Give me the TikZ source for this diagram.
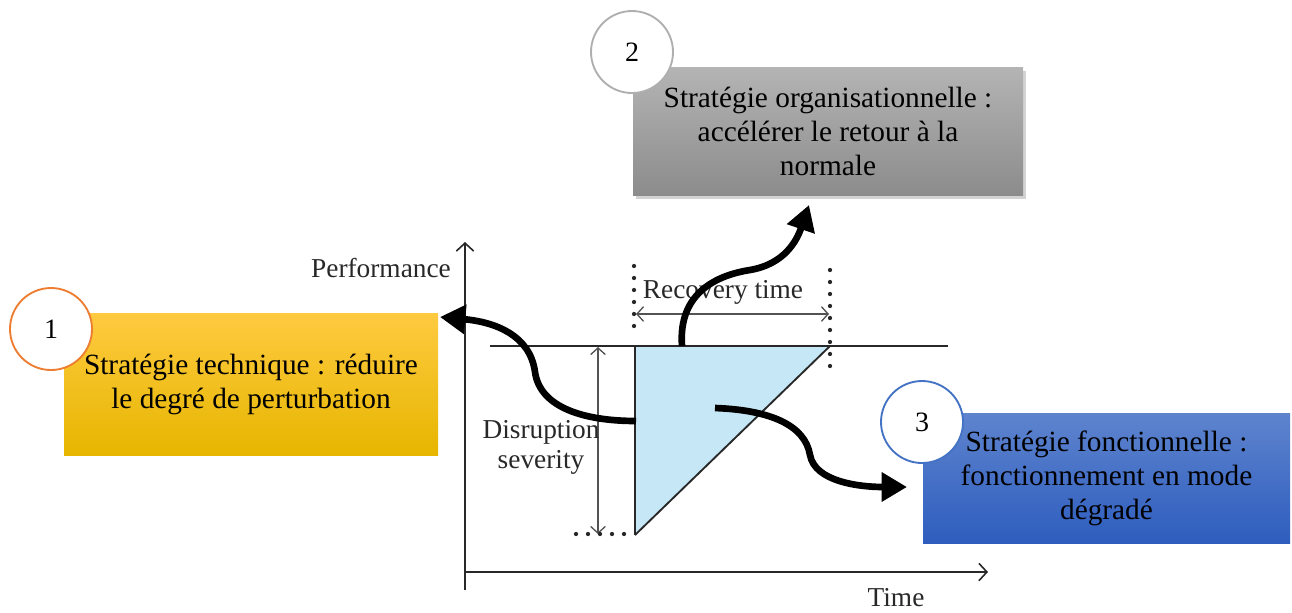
\documentclass[tikz,border=0pt]{standalone}
\usepackage{fontspec}
\setmainfont{Liberation Serif}
\usetikzlibrary{arrows.meta,shadows}
\definecolor{yelTop}{RGB}{255,202,64}
\definecolor{yelBot}{RGB}{230,182,0}
\definecolor{grayTop}{RGB}{180,180,180}
\definecolor{grayBot}{RGB}{140,140,140}
\definecolor{blueTop}{RGB}{94,132,206}
\definecolor{blueBot}{RGB}{46,93,190}
\definecolor{ringOrange}{RGB}{237,125,49}
\definecolor{ringGray}{RGB}{175,175,175}
\definecolor{ringBlue}{RGB}{68,114,196}
\definecolor{lossFill}{RGB}{198,232,246}
\definecolor{chartInk}{RGB}{40,40,40}
\begin{document}
\begin{tikzpicture}[x=0.75pt,y=-0.75pt,
  boxtext/.style={font=\fontsize{22}{25.5}\selectfont, align=center, inner sep=0pt, text=black},
  stratbox/.style={boxtext, shading=axis, shading angle=0},
  numring/.style={circle, draw, line width=1.4pt, fill=white, minimum size=61.5pt, inner sep=0pt,
                  font=\fontsize{21}{24}\selectfont},
  charttext/.style={font=\fontsize{20.5}{22.5}\selectfont, text=chartInk, inner sep=0pt, align=center},
  axis/.style={line width=1.4pt, chartInk, -{Straight Barb[length=6pt,width=13pt,line width=1.2pt]}},
  span/.style={line width=1pt, chartInk!80, {Straight Barb[length=5pt,width=11pt]}-{Straight Barb[length=5pt,width=11pt]}},
  dotline/.style={line width=3.2pt, chartInk, line cap=round, dash pattern=on 0pt off 9pt},
  curly/.style={line width=5pt, black, -{Triangle[length=19pt,width=21pt]}}
]
\useasboundingbox (0,0) rectangle (1292,612);

% strategy boxes
\node[stratbox, top color=yelTop, bottom color=yelBot, minimum width=280.5pt, minimum height=106.5pt]
  (tech) at (251,384) {Stratégie technique : réduire\\le degré de perturbation};
\node[stratbox, top color=grayTop, bottom color=grayBot, minimum width=292.5pt, minimum height=96pt,
      drop shadow={shadow xshift=2pt, shadow yshift=-3pt, opacity=0.35}]
  (orga) at (828,131) {Stratégie organisationnelle :\\accélérer le retour à la\\normale};
\node[stratbox, top color=blueTop, bottom color=blueBot, minimum width=275.25pt, minimum height=97.5pt]
  (func) at (1106.5,478) {Stratégie fonctionnelle :\\fonctionnement en mode\\dégradé};

% numbered rings
\node[numring, draw=ringOrange] (n1) at (51,329) {1};
\node[numring, draw=ringGray]   (n2) at (632,52) {2};
\node[numring, draw=ringBlue]   (n3) at (922,422) {3};

% axes
\coordinate (ybot) at (465,590);
\coordinate (ytop) at (465,242);
\coordinate (xstart) at (465,572);
\coordinate (xend) at (988,572);
\draw[axis] (ybot) -- (ytop);
\draw[axis] (xstart) -- (xend);
\node[charttext] (perf) at (381,268) {Performance};
\node[charttext] (time) at (896,598) {Time};

% nominal performance level and loss triangle
\coordinate (tA) at (635,346);
\coordinate (tB) at (830,346);
\coordinate (tC) at (635,535);
\fill[lossFill] (tA) -- (tB) -- (tC) -- cycle;
\draw[line width=1.6pt, chartInk] (490,346) -- (948,346);
\draw[line width=1.8pt, chartInk] (tA) -- (tC);
\draw[line width=1.4pt, chartInk] (tC) -- (tB);

% recovery time span
\draw[dotline] (634,266) -- (634,336);
\draw[dotline] (830,270) -- (830,372);
\draw[span] (636,314) -- (829,314);
\node[charttext] (rec) at (723,292) {Recovery time};

% disruption severity span
\draw[span] (598,347) -- (598,534);
\draw[dotline] (576,534) -- (628,534);
\node[charttext] (sev) at (541,447) {Disruption\\severity};

% strategy arrows
\coordinate (s1) at (636,421);
\coordinate (e1) at (440,317);
\coordinate (s2) at (682,346);
\coordinate (e2) at (809,205);
\coordinate (s3) at (715,408);
\coordinate (e3) at (907,487);
\draw[curly] (s1) .. controls (585,421) and (540,408) .. (535,372)
             .. controls (530,335) and (495,322) .. (e1);
\draw[curly] (s2) .. controls (678,292) and (718,275) .. (750,270)
             .. controls (785,264) and (797,240) .. (e2);
\draw[curly] (s3) .. controls (770,410) and (805,425) .. (810,455)
             .. controls (815,482) and (860,487) .. (e3);
\end{tikzpicture}
\end{document}
